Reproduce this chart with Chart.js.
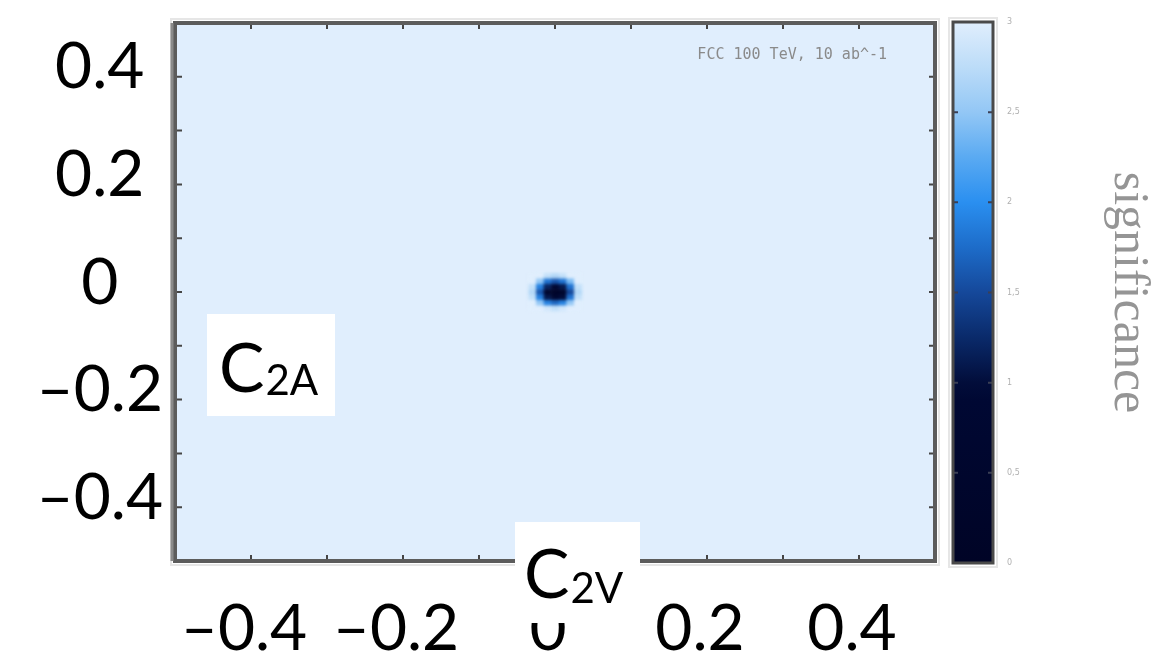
<!DOCTYPE html>
<html>
<head>
<meta charset="utf-8">
<script src="https://cdn.jsdelivr.net/npm/chart.js@4/dist/chart.umd.min.js"></script>
<style>
  html, body { margin: 0; padding: 0; background: #fff; }
  #wrap { position: relative; width: 1163px; height: 656px; overflow: hidden; }
  #main { position: absolute; left: 0; top: 0; }
  #cbar { position: absolute; left: 940px; top: 0; }
</style>
</head>
<body>
<div id="wrap">
  <canvas id="main" width="945" height="656"></canvas>
  <canvas id="cbar" width="223" height="656"></canvas>
</div>
<script>
/* global Chart */

// axis ticks (big labels) and the small marks on the frame
const xTicks = [-0.4, -0.2, 0, 0.2, 0.4];
const yTicks = [0.4, 0.2, 0, -0.2, -0.4];
const frameMarks = [-0.4, -0.3, -0.2, -0.1, 0, 0.1, 0.2, 0.3, 0.4];

// significance map: plane is saturated (3) except a small dip at the SM point
const gridX = [-0.03, -0.02, -0.01, 0, 0.01, 0.02, 0.03];
const gridY = [0.03, 0.02, 0.01, 0, -0.01, -0.02, -0.03];
const significance = [
  [3.0, 3.0, 2.8, 2.7, 2.8, 3.0, 3.0],
  [3.0, 2.5, 1.8, 1.6, 1.8, 2.4, 3.0],
  [2.8, 1.9, 1.2, 0.9, 1.1, 1.8, 2.8],
  [2.7, 1.6, 0.6, 0.3, 0.5, 1.5, 2.7],
  [2.8, 1.9, 1.1, 0.8, 1.0, 1.8, 2.8],
  [3.0, 2.5, 1.9, 1.7, 1.9, 2.5, 3.0],
  [3.0, 3.0, 2.9, 2.8, 2.9, 3.0, 3.0],
];
const backgroundSignificance = 3;

// colour bar
const cbarRange = [0, 3];
const cbarTicks = [0, 0.5, 1, 1.5, 2, 2.5, 3];

const runLabel = "FCC 100 TeV, 10 ab^-1";

// colormap (dark navy -> blue -> very light blue)
const cmapPos = [0, 0.9, 1, 1.25, 1.5, 1.75, 2, 2.25, 2.5, 2.75, 3];
const cmapCol = ["#000426", "#000833", "#020d3a", "#0a2a6a", "#15489a", "#1d6cc9",
  "#2a8ff0", "#5aaaf2", "#93c7f5", "#bcdcf8", "#e0eefd"];

function hexRgb(h) {
  return [1, 3, 5].map((i) => parseInt(h.substr(i, 2), 16));
}
function colorFor(v) {
  v = Math.max(cmapPos[0], Math.min(cmapPos[cmapPos.length - 1], v));
  let i = 0;
  while (i < cmapPos.length - 2 && v > cmapPos[i + 1]) i++;
  const t = (v - cmapPos[i]) / (cmapPos[i + 1] - cmapPos[i]);
  const a = hexRgb(cmapCol[i]);
  const b = hexRgb(cmapCol[i + 1]);
  const c = a.map((x, k) => Math.round(x + (b[k] - x) * t));
  return `rgb(${c[0]},${c[1]},${c[2]})`;
}

const cells = [];
gridY.forEach((y, i) => gridX.forEach((x, j) => cells.push({ x, y, v: significance[i][j] })));
const cellW = 0.01;
const cellH = 0.01;

const fmtTick = (v) => (v < 0 ? "\u2013" : "") + Math.abs(v);
const noPad = (s) => { s.paddingTop = 0; s.paddingBottom = 0; s.paddingLeft = 0; s.paddingRight = 0; };

// Plugins

const heatmap = {
  id: "heatmap",
  beforeDatasetsDraw(chart) {
    const { ctx, chartArea: a, scales: { x, y } } = chart;
    const off = document.createElement("canvas");
    off.width = chart.width;
    off.height = chart.height;
    const o = off.getContext("2d");
    chart.data.datasets[0].data.forEach((c) => {
      const x0 = x.getPixelForValue(c.x - cellW / 2);
      const x1 = x.getPixelForValue(c.x + cellW / 2);
      const y0 = y.getPixelForValue(c.y + cellH / 2);
      const y1 = y.getPixelForValue(c.y - cellH / 2);
      o.fillStyle = colorFor(c.v);
      o.fillRect(x0, y0, x1 - x0 + 0.5, y1 - y0 + 0.5);
    });
    ctx.save();
    ctx.beginPath();
    ctx.rect(a.left, a.top, a.width, a.height);
    ctx.clip();
    ctx.fillStyle = colorFor(backgroundSignificance);
    ctx.fillRect(a.left, a.top, a.width, a.height);
    ctx.filter = "blur(1.5px)";
    ctx.drawImage(off, 0, 0);
    ctx.restore();
  },
};

const frame = {
  id: "frame",
  afterDatasetsDraw(chart) {
    const { ctx, chartArea: a, scales: { x, y } } = chart;
    ctx.save();
    ctx.strokeStyle = "#e6e6e6";
    ctx.lineWidth = 2;
    ctx.strokeRect(a.left - 4, a.top - 4, a.width + 8, a.height + 8);
    ctx.strokeStyle = "#454545";
    ctx.lineWidth = 2;
    frameMarks.forEach((v) => {
      const px = x.getPixelForValue(v);
      const py = y.getPixelForValue(v);
      ctx.beginPath();
      ctx.moveTo(px, a.bottom); ctx.lineTo(px, a.bottom - 6);
      ctx.moveTo(px, a.top); ctx.lineTo(px, a.top + 6);
      ctx.moveTo(a.left, py); ctx.lineTo(a.left + 7, py);
      ctx.moveTo(a.right, py); ctx.lineTo(a.right - 6, py);
      ctx.stroke();
    });
    ctx.strokeStyle = "#5c5c5c";
    ctx.lineWidth = 4;
    ctx.strokeRect(a.left, a.top, a.width, a.height);
    ctx.strokeStyle = "#8a8a8a";
    ctx.lineWidth = 3;
    ctx.beginPath();
    ctx.moveTo(a.left - 3, a.top);
    ctx.lineTo(a.left - 3, a.bottom);
    ctx.stroke();
    ctx.restore();
  },
};

const overlay = {
  id: "overlay",
  afterDraw(chart) {
    const { ctx, chartArea: a } = chart;
    ctx.save();
    ctx.font = '15px "DejaVu Sans Mono"';
    ctx.fillStyle = "#8a8a8a";
    ctx.textAlign = "right";
    ctx.textBaseline = "middle";
    ctx.fillText(runLabel, a.right - 48, a.top + 32);

    const boxes = [
      { x: 207, y: 314, w: 128, h: 102, sub: "2A", cx: 219, cb: 392, sb: 395 },
      { x: 515, y: 522, w: 125, h: 101, sub: "2V", cx: 524, cb: 598, sb: 603 },
    ];
    boxes.forEach((b) => {
      ctx.fillStyle = "#fff";
      ctx.fillRect(b.x, b.y, b.w, b.h);
      ctx.fillStyle = "#000";
      ctx.textAlign = "left";
      ctx.textBaseline = "alphabetic";
      ctx.font = "68px Lato";
      ctx.fillText("C", b.cx, b.cb);
      const cw = ctx.measureText("C").width;
      ctx.font = "42px Lato";
      ctx.fillText(b.sub, b.cx + cw + 1, b.sb);
    });
    ctx.restore();
  },
};

const cbarFrame = {
  id: "cbarFrame",
  afterDatasetsDraw(chart) {
    const { ctx, chartArea: a, scales: { y } } = chart;
    ctx.save();
    ctx.strokeStyle = "#e6e6e6";
    ctx.lineWidth = 2;
    ctx.strokeRect(a.left - 4, a.top - 4, a.width + 8, a.height + 8);
    ctx.strokeStyle = "#3a3f55";
    ctx.lineWidth = 2;
    cbarTicks.forEach((v) => {
      const py = y.getPixelForValue(v);
      ctx.beginPath();
      ctx.moveTo(a.left, py); ctx.lineTo(a.left + 5, py);
      ctx.moveTo(a.right, py); ctx.lineTo(a.right - 5, py);
      ctx.stroke();
    });
    ctx.strokeStyle = "#4a4a4a";
    ctx.lineWidth = 3;
    ctx.strokeRect(a.left, a.top, a.width, a.height);
    ctx.restore();
  },
};

// Main map

new Chart(document.getElementById("main"), {
  type: "scatter",
  data: {
    datasets: [{ data: cells, pointRadius: 0, pointHoverRadius: 0 }],
  },
  options: {
    responsive: false,
    animation: false,
    events: [],
    layout: { padding: { top: 23, right: 10, left: 0, bottom: 0 } },
    plugins: { legend: { display: false }, tooltip: { enabled: false } },
    scales: {
      x: {
        type: "linear",
        min: -0.5,
        max: 0.5,
        afterBuildTicks: (s) => { s.ticks = xTicks.map((v) => ({ value: v })); },
        afterFit: (s) => { s.height = 95; noPad(s); },
        grid: { display: false, drawTicks: false },
        border: { display: false },
        ticks: {
          autoSkip: false,
          maxRotation: 0,
          padding: 36,
          labelOffset: -7,
          color: "#000",
          font: { family: "Lato", size: 64, lineHeight: 1 },
          callback: fmtTick,
        },
      },
      y: {
        type: "linear",
        min: -0.5,
        max: 0.5,
        afterBuildTicks: (s) => { s.ticks = yTicks.map((v) => ({ value: v })); },
        afterFit: (s) => { s.width = 175; noPad(s); },
        grid: { display: false, drawTicks: false },
        border: { display: false },
        ticks: {
          autoSkip: false,
          crossAlign: "center",
          padding: 12,
          labelOffset: -9,
          color: "#000",
          font: { family: "Lato", size: 64, lineHeight: 1 },
          callback: fmtTick,
        },
      },
    },
  },
  plugins: [heatmap, frame, overlay],
});

// Colour bar

new Chart(document.getElementById("cbar"), {
  type: "bar",
  data: {
    labels: ["significance"],
    datasets: [
      {
        data: [cbarRange],
        barPercentage: 1,
        categoryPercentage: 1,
        borderWidth: 0,
        backgroundColor: (c) => {
          const chart = c.chart;
          if (!chart.chartArea) return cmapCol[0];
          const y = chart.scales.y;
          const g = chart.ctx.createLinearGradient(0, y.getPixelForValue(cbarRange[0]), 0, y.getPixelForValue(cbarRange[1]));
          cmapPos.forEach((p, i) => g.addColorStop((p - cbarRange[0]) / (cbarRange[1] - cbarRange[0]), cmapCol[i]));
          return g;
        },
      },
    ],
  },
  options: {
    responsive: false,
    animation: false,
    events: [],
    layout: { padding: { left: 13, top: 22, bottom: 93, right: 0 } },
    plugins: { legend: { display: false }, tooltip: { enabled: false } },
    scales: {
      x: { display: false },
      y: {
        position: "right",
        min: cbarRange[0],
        max: cbarRange[1],
        afterBuildTicks: (s) => { s.ticks = cbarTicks.map((v) => ({ value: v })); },
        afterFit: (s) => { s.width = 170; noPad(s); },
        grid: { display: false, drawTicks: false },
        border: { display: false },
        ticks: {
          padding: 14,
          color: "#b0b0b0",
          font: { family: "DejaVu Sans", size: 8 },
          callback: (v) => String(v).replace(".", ","),
        },
        title: {
          display: true,
          text: "significance",
          color: "#959595",
          font: { family: "Liberation Serif", size: 50 },
          padding: { top: 5, bottom: 0 },
        },
      },
    },
  },
  plugins: [cbarFrame],
});
</script>
</body>
</html>
